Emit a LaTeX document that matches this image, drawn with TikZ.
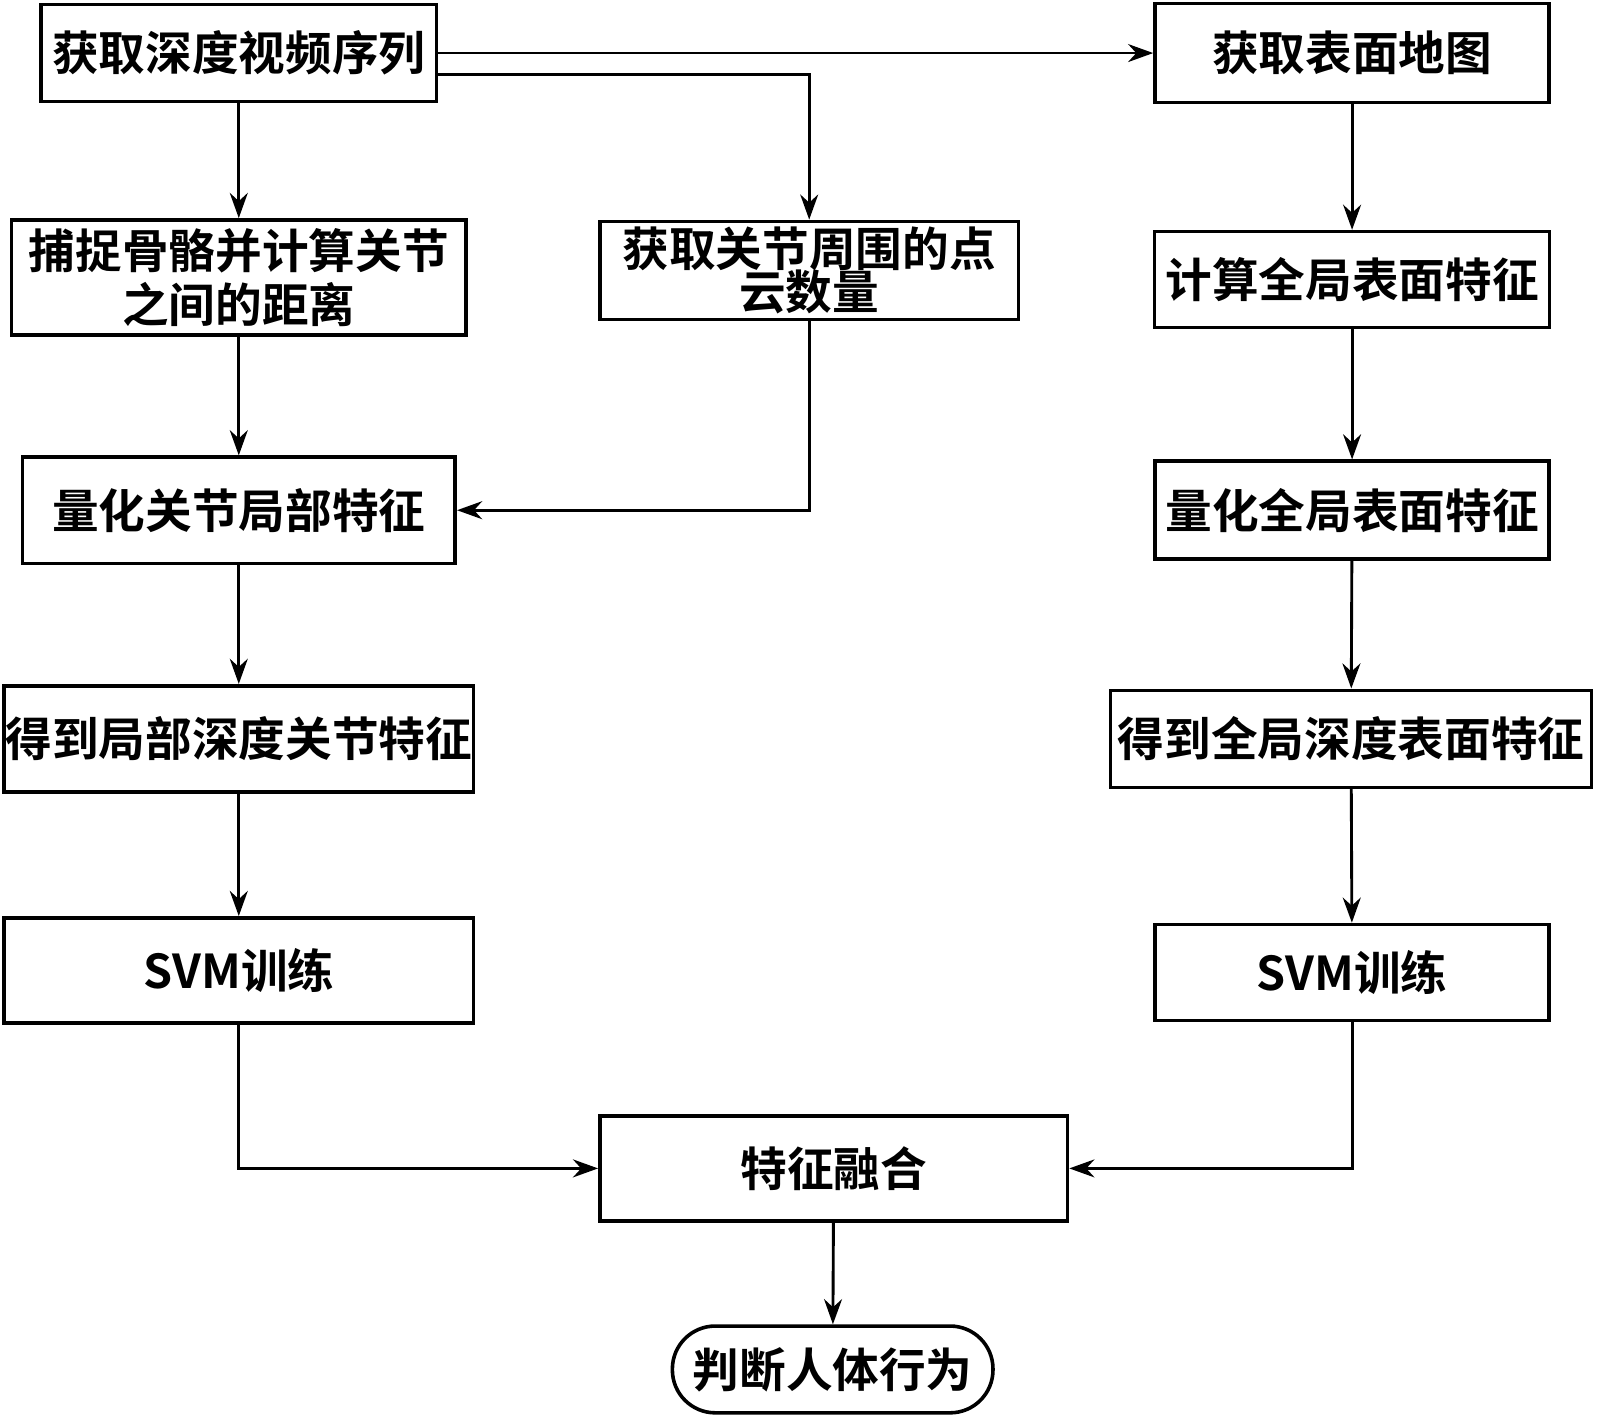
\documentclass[tikz,border=0pt]{standalone}
\usepackage{fontspec}
\setmainfont{Noto Sans CJK SC}[BoldFont={Noto Sans CJK SC Bold}]
\usetikzlibrary{arrows.meta}
\begin{document}
\begin{tikzpicture}[x=0.01cm,y=-0.01cm,
		box/.style={draw,line width=1pt,inner sep=0pt,align=center,
			font=\fontsize{13}{15}\selectfont\bfseries},
		arr/.style={line width=0.8pt,-{Stealth[length=7pt,width=5pt]}}]
	\useasboundingbox (0,0) rectangle (1565,1391);
		\node[box,minimum width=3.87cm,minimum height=0.95cm] (seq) at (234,52) {获取深度视频序列};
		\node[box,minimum width=3.86cm,minimum height=0.97cm] (map) at (1325,52) {获取表面地图};
		\node[box,minimum width=4.45cm,minimum height=1.13cm] (skel) at (234,272)
			{捕捉骨骼并计算关节\\之间的距离};
		\node[box,minimum width=4.10cm,minimum height=0.96cm] (cloud) at (793,265)
			{获取关节周围的点\\[-3pt]云数量};
		\node[box,minimum width=3.87cm,minimum height=0.94cm] (glob) at (1325,274) {计算全局表面特征};
		\node[box,minimum width=4.24cm,minimum height=1.04cm] (qloc) at (234,500) {量化关节局部特征};
		\node[box,minimum width=3.86cm,minimum height=0.96cm] (qglob) at (1325,500) {量化全局表面特征};
		\node[box,minimum width=4.60cm,minimum height=1.04cm] (floc) at (234,724) {得到局部深度关节特征};
		\node[box,minimum width=4.71cm,minimum height=0.95cm] (fglob) at (1324,724) {得到全局深度表面特征};
		\node[box,minimum width=4.60cm,minimum height=1.03cm] (svml) at (234,951) {SVM训练};
		\node[box,minimum width=3.86cm,minimum height=0.94cm] (svmr) at (1325,953) {SVM训练};
		\node[box,minimum width=4.58cm,minimum height=1.03cm] (fuse) at (817,1145) {特征融合};
		\node[box,rounded corners=0.42cm,minimum width=3.14cm,minimum height=0.85cm] (act) at (816,1342) {判断人体行为};
		% connectors
		\draw[arr] (seq.east) -- (map.west);
		\draw[arr] (seq.east |- 0,73) -| (cloud.north);
		\draw[arr] (seq) -- (skel);
		\draw[arr] (skel) -- (qloc);
		\draw[arr] (cloud.south) |- (qloc.east);
		\draw[arr] (qloc) -- (floc);
		\draw[arr] (floc) -- (svml);
		\draw[arr] (svml.south) |- (fuse.west);
		\draw[arr] (map) -- (glob);
		\draw[arr] (glob) -- (qglob);
		\draw[arr] (qglob) -- (fglob);
		\draw[arr] (fglob) -- (svmr);
		\draw[arr] (svmr.south) |- (fuse.east);
		\draw[arr] (fuse) -- (act);
\end{tikzpicture}
\end{document}
